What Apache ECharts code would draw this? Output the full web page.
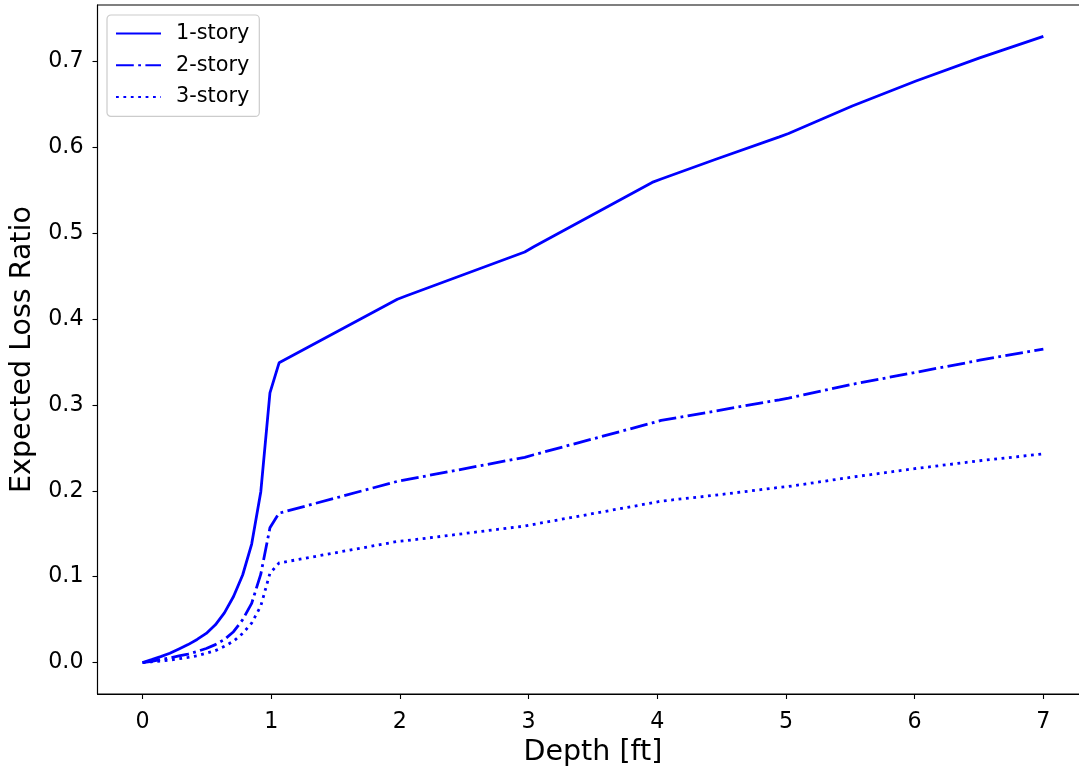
<!DOCTYPE html>
<html>
<head>
<meta charset="utf-8">
<script src="https://cdn.jsdelivr.net/npm/echarts@6/dist/echarts.min.js"></script>
<style>
  html, body { margin: 0; padding: 0; background: #fff; overflow: hidden; }
  #chart { width: 1079px; height: 767px; }
</style>
</head>
<body>
<div id="chart"></div>
<script>
// Flood depth above first floor (ft) at which the loss ratios are evaluated
const depth = [0, 0.071, 0.141, 0.212, 0.283, 0.354, 0.424, 0.495, 0.566, 0.636,
  0.707, 0.778, 0.848, 0.919, 0.990, 1.061, 1.980, 2.051, 2.970, 3.040,
  3.960, 4.030, 4.455, 4.949, 5.020, 5.515, 6.010, 6.505, 7.000];

// Expected loss ratio per building type
const oneStory = [0, 0.0035, 0.007, 0.011, 0.016, 0.021, 0.027, 0.034, 0.044, 0.058,
  0.077, 0.102, 0.138, 0.199, 0.314, 0.349, 0.423, 0.427, 0.478, 0.484,
  0.559, 0.563, 0.586, 0.612, 0.616, 0.648, 0.677, 0.704, 0.729];
const twoStory = [0, 0.0015, 0.0035, 0.0055, 0.0078, 0.010, 0.013, 0.0165, 0.021, 0.027,
  0.036, 0.050, 0.069, 0.103, 0.157, 0.174, 0.211, 0.213, 0.239, 0.242,
  0.279, 0.282, 0.293, 0.306, 0.308, 0.324, 0.338, 0.352, 0.365];
const threeStory = [0, 0.001, 0.002, 0.003, 0.0045, 0.006, 0.008, 0.011, 0.014, 0.019,
  0.025, 0.034, 0.046, 0.066, 0.104, 0.116, 0.141, 0.142, 0.159, 0.161,
  0.186, 0.188, 0.195, 0.204, 0.205, 0.216, 0.226, 0.235, 0.243];

const seriesNames = ['1-story', '2-story', '3-story'];
const xTicks = [0, 1, 2, 3, 4, 5, 6, 7];
const yTicks = [0, 0.1, 0.2, 0.3, 0.4, 0.5, 0.6, 0.7];

const FONT = 'DejaVu Sans';
const BLUE = '#0000ff';
const LW = 2.8;

function pairs(ys) {
  return depth.map((d, i) => [d, ys[i]]);
}

const axisCommon = {
  type: 'value',
  splitLine: { show: false },
  axisLine: { show: true, onZero: false, lineStyle: { color: '#000', width: 1.1 } },
  axisTick: { show: true, inside: false, length: 5, lineStyle: { color: '#000', width: 1.1 } },
  nameTextStyle: { fontFamily: FONT, fontSize: 28.5, color: '#000' }
};

const chart = echarts.init(document.getElementById('chart'), null, { renderer: 'canvas' });

chart.setOption({
  animation: false,
  backgroundColor: '#fff',
  grid: {
    left: 97.5, right: -9.4, top: 5, bottom: 73,
    outerBoundsMode: 'none', containLabel: false,
    show: true, borderColor: '#000', borderWidth: 1.1, backgroundColor: 'transparent'
  },
  legend: {
    data: seriesNames,
    orient: 'vertical',
    left: 107, top: 15,
    itemWidth: 45, itemHeight: 14, itemGap: 10.7,
    padding: [8, 10, 9, 8],
    backgroundColor: 'rgba(255,255,255,0.8)',
    borderColor: '#cccccc', borderWidth: 1.2, borderRadius: 4,
    itemStyle: { opacity: 0 },
    textStyle: { fontFamily: FONT, fontSize: 20.8, color: '#000', padding: [0, 0, 0, 10] }
  },
  xAxis: Object.assign({}, axisCommon, {
    min: -0.35, max: 7.35,
    name: 'Depth [ft]', nameLocation: 'middle', nameGap: 44,
    axisTick: Object.assign({}, axisCommon.axisTick, { customValues: xTicks }),
    axisLabel: {
      customValues: xTicks, margin: 17,
      fontFamily: FONT, fontSize: 22.2, color: '#000',
      formatter: v => String(v)
    }
  }),
  yAxis: Object.assign({}, axisCommon, {
    min: -0.0365, max: 0.7655,
    name: 'Expected Loss Ratio', nameLocation: 'middle', nameGap: 56, nameRotate: 90,
    axisTick: Object.assign({}, axisCommon.axisTick, { customValues: yTicks }),
    axisLabel: {
      customValues: yTicks, margin: 14,
      fontFamily: FONT, fontSize: 22.2, color: '#000',
      formatter: v => v.toFixed(1)
    }
  }),
  series: [
    { name: seriesNames[0], type: 'line', data: pairs(oneStory), symbol: 'none',
      lineStyle: { color: BLUE, width: LW, type: 'solid' }, itemStyle: { color: BLUE } },
    { name: seriesNames[1], type: 'line', data: pairs(twoStory), symbol: 'none',
      lineStyle: { color: BLUE, width: LW, type: [17.8, 4.4, 2.8, 4.4] }, itemStyle: { color: BLUE } },
    { name: seriesNames[2], type: 'line', data: pairs(threeStory), symbol: 'none',
      lineStyle: { color: BLUE, width: LW, type: [2.8, 4.6] }, itemStyle: { color: BLUE } }
  ]
});
</script>
</body>
</html>
